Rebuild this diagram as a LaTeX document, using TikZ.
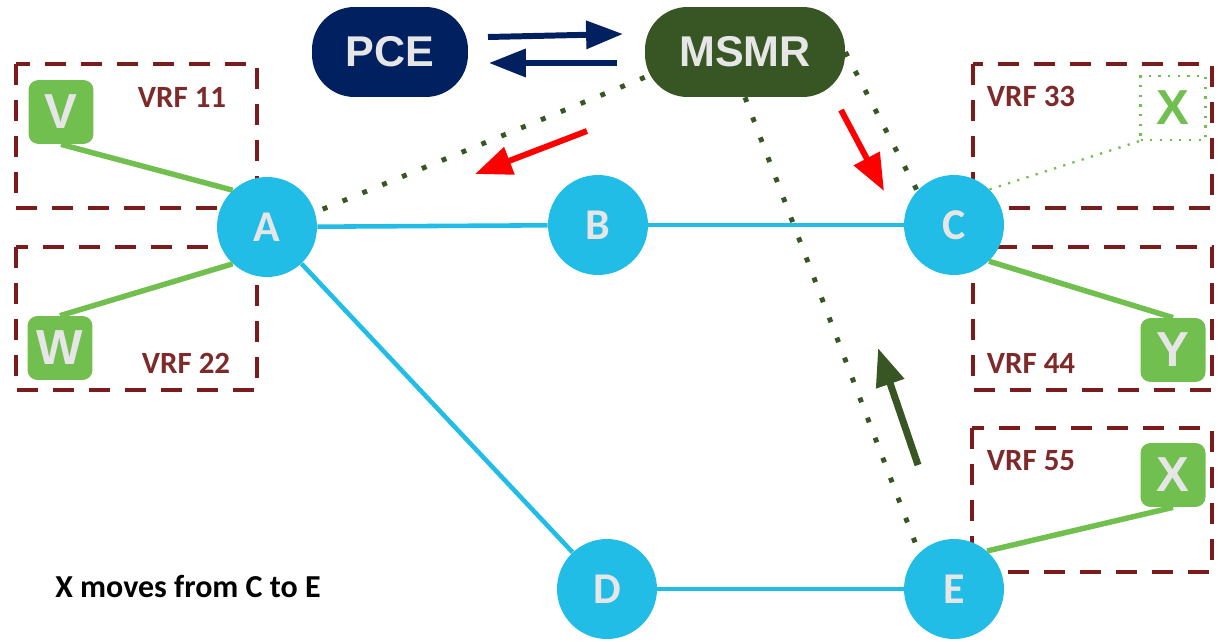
\documentclass[tikz,border=0pt]{standalone}
\usepackage{fontspec}
\setmainfont{Carlito}
\newfontfamily\arialfont{Liberation Sans}
\usetikzlibrary{arrows.meta}
\definecolor{routerblue}{HTML}{21BDE7}
\definecolor{navy}{HTML}{002060}
\definecolor{darkgreen}{HTML}{375623}
\definecolor{leaf}{HTML}{70BF4F}
\definecolor{maroon}{HTML}{7B1C1C}
\definecolor{vrftext}{HTML}{7F2A2A}
\definecolor{lettergrey}{HTML}{E6E6E6}

\begin{document}
\begin{tikzpicture}[x=0.02cm,y=-0.02cm,
  router/.style={circle, fill=routerblue, minimum size=2cm, inner sep=0pt,
    text=lettergrey, font=\fontsize{25}{27}\selectfont\bfseries},
  host/.style={rounded corners=0.2cm, fill=leaf, minimum width=1.3cm,
    minimum height=1.28cm, inner sep=0pt, text=lettergrey,
    font=\arialfont\fontsize{28}{30}\selectfont\bfseries},
  ghosthost/.style={draw=leaf, line width=1.3pt, dash pattern=on 1.3pt off 4.2pt,
    minimum width=1.3cm, minimum height=1.28cm, inner sep=0pt, text=leaf,
    font=\arialfont\fontsize{28}{30}\selectfont\bfseries},
  ctrl/.style={rounded corners=0.85cm, minimum height=1.8cm, inner sep=0pt,
    text=lettergrey, font=\arialfont\fontsize{24.5}{27}\selectfont\bfseries},
  vrf/.style={draw=maroon, line width=2.8pt, dash pattern=on 12pt off 8.5pt},
  vrflabel/.style={text=vrftext, inner sep=0pt, font=\fontsize{17.6}{20}\selectfont\bfseries},
  link/.style={draw=routerblue, line width=2.6pt},
  access/.style={draw=leaf, line width=3.1pt},
  oldaccess/.style={draw=leaf, line width=1.3pt, dash pattern=on 1.3pt off 4.2pt},
  signal/.style={draw=darkgreen, line width=2.8pt, dash pattern=on 2.8pt off 9.4pt},
  move/.style={draw=red, line width=3.4pt, -{Triangle[length=21pt,width=16pt]}},
  update/.style={draw=darkgreen, line width=4pt, -{Triangle[length=21.5pt,width=16pt]}},
  exchange/.style={draw=navy, line width=3.4pt, -{Triangle[length=21pt,width=15.5pt]}}]

\useasboundingbox (0,0) rectangle (1220,642);

% VRF boundaries
\draw[vrf] (16,64) rectangle (257,208);
\draw[vrf] (16,247) rectangle (257,390);
\draw[vrf] (973,64) rectangle (1212,208);
\draw[vrf] (973,247) rectangle (1212,390);
\draw[vrf] (972,428) rectangle (1212,572);

\node[vrflabel] (l11) at (182,97) {VRF 11};
\node[vrflabel] (l22) at (186,363) {VRF 22};
\node[vrflabel] (l33) at (1031,96) {VRF 33};
\node[vrflabel] (l44) at (1031,363) {VRF 44};
\node[vrflabel] (l55) at (1031,461) {VRF 55};

% controllers
\node[ctrl, fill=navy, minimum width=3.12cm] (pce) at (390,52) {PCE};
\node[ctrl, fill=darkgreen, minimum width=4cm] (msmr) at (745,52) {MSMR};

% routers
\node[router] (A) at (267,227) {A};
\node[router] (B) at (598,225) {B};
\node[router] (C) at (954,225) {C};
\node[router] (D) at (607,589) {D};
\node[router] (E) at (954,589) {E};

% hosts
\node[host] (V) at (61,112) {V};
\node[host] (W) at (60,348) {W};
\node[host] (Y) at (1173,350) {Y};
\node[host] (X) at (1173,475) {X};
\node[ghosthost] (Xold) at (1173,108) {X};

% backbone links
\draw[link] (A) -- (B);
\draw[link] (B) -- (C);
\draw[link] (A) -- (D);
\draw[link] (D) -- (E);

% host attachments
\draw[access] (V.south) -- (A.133);
\draw[access] (W.north) -- (A.227);
\draw[access] (C.-46) -- (Y.north);
\draw[access] (E.49) -- (X.south);
\draw[oldaccess] (C.45) -- (Xold.south west);

% control-plane sessions
\draw[signal] ([yshift=0.4cm]msmr.south west) -- (A.17);
\draw[signal] (msmr.east) -- (C.137);
\draw[signal] (msmr.south) -- (E.134);

% PCE <-> MSMR exchange
\coordinate (p1s) at (488,37);
\coordinate (p1e) at (623,34);
\coordinate (p2s) at (617,63);
\coordinate (p2e) at (489,63);
\draw[exchange] (p1s) -- (p1e);
\draw[exchange] (p2s) -- (p2e);

% map notifications
\coordinate (r1s) at (587,131);
\coordinate (r1e) at (475,174);
\coordinate (r2s) at (841,110);
\coordinate (r2e) at (884,191);
\draw[move] (r1s) -- (r1e);
\draw[move] (r2s) -- (r2e);

% registration from E
\coordinate (g1s) at (918,465);
\coordinate (g1e) at (878,348);
\draw[update] (g1s) -- (g1e);

\node[anchor=west, inner sep=0pt, font=\fontsize{18.2}{20}\selectfont\bfseries] (caption) at (55,587) {X moves from C to E};
\end{tikzpicture}
\end{document}
